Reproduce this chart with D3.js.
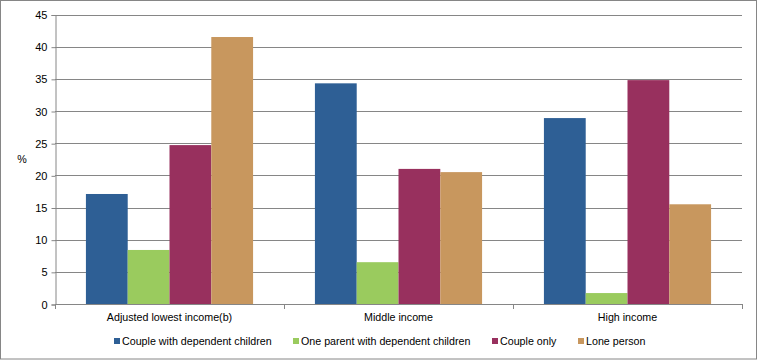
<!DOCTYPE html>
<html>
<head>
<meta charset="utf-8">
<script src="https://cdn.jsdelivr.net/npm/d3@7"></script>
<style>
  body { margin: 0; background: #fff; }
  text { font-family: "Liberation Sans", Arial, sans-serif; font-size: 10.7px; fill: #000; }
</style>
</head>
<body>
<script>
const w = 757;
const h = 360;

const categories = ["Adjusted lowest income(b)", "Middle income", "High income"];
const seriesNames = ["Couple with dependent children", "One parent with dependent children", "Couple only", "Lone person"];
const colors = ["#2E5F95", "#9ACB5E", "#98305E", "#C8975E"];
const coupleKids = [17.1, 34.3, 28.9];
const oneParent = [8.4, 6.5, 1.7];
const coupleOnly = [24.7, 21.0, 34.8];
const lonePerson = [41.5, 20.5, 15.5];
const yTicks = [0, 5, 10, 15, 20, 25, 30, 35, 40, 45];

const values = [coupleKids, oneParent, coupleOnly, lonePerson];

const pLeft = 55, pRight = 742, pTop = 14.5, pBottom = 304;

const svg = d3.select("body")
              .append("svg")
              .attr("width", w)
              .attr("height", h);

// outer border
svg.append("rect")
   .attr("x", 0.5).attr("y", 0.5)
   .attr("width", w - 1).attr("height", h - 1.5)
   .attr("fill", "none")
   .attr("stroke", "#868686");

const x0 = d3.scaleBand().domain(categories).range([pLeft, pRight]).padding(0);
const x1 = d3.scaleBand().domain(d3.range(4)).range([0, x0.bandwidth()]).paddingInner(0).paddingOuter(0.74);
const y = d3.scaleLinear().domain([0, 45]).range([pBottom, pTop]);

// grid lines
svg.selectAll("line.grid")
   .data(yTicks.slice(1))
   .enter()
   .append("line")
   .attr("x1", pLeft).attr("x2", pRight)
   .attr("y1", d => Math.round(y(d)) + 0.5)
   .attr("y2", d => Math.round(y(d)) + 0.5)
   .attr("stroke", "#868686");

// bars
categories.forEach((c, ci) => {
  svg.selectAll("rect.g" + ci)
     .data(values.map((v, si) => [si, v[ci]]))
     .enter()
     .append("rect")
     .attr("class", "g" + ci)
     .attr("x", d => x0(c) + x1(d[0]))
     .attr("y", d => y(d[1]))
     .attr("width", x1.bandwidth())
     .attr("height", d => pBottom - y(d[1]))
     .style("fill", d => colors[d[0]]);
});

// y axis
const yAxis = svg.append("g")
   .attr("transform", "translate(" + (pLeft + 0.5) + ",0.5)")
   .call(d3.axisLeft(y).tickValues(yTicks).tickSize(4).tickPadding(4));
yAxis.select(".domain").attr("stroke", "#868686");
yAxis.selectAll(".tick line").attr("stroke", "#868686");
yAxis.selectAll("text").style("font-family", "Liberation Sans, Arial, sans-serif").style("font-size", "11px").attr("fill", "#000");

// x axis
const xg = svg.append("g");
xg.append("line")
  .attr("x1", pLeft).attr("x2", pRight + 1)
  .attr("y1", pBottom + 0.5).attr("y2", pBottom + 0.5)
  .attr("stroke", "#868686");
xg.selectAll("line.tk")
  .data(categories.map(c => x0(c)).concat([pRight]))
  .enter()
  .append("line")
  .attr("x1", d => Math.round(d) + 0.5).attr("x2", d => Math.round(d) + 0.5)
  .attr("y1", pBottom).attr("y2", pBottom + 5)
  .attr("stroke", "#868686");
xg.selectAll("text")
  .data(categories)
  .enter()
  .append("text")
  .attr("x", d => x0(d) + x0.bandwidth() / 2)
  .attr("y", 321)
  .attr("text-anchor", "middle")
  .text(d => d);

// y label
svg.append("text")
   .attr("x", 22).attr("y", 163)
   .attr("text-anchor", "middle")
   .text("%");

// legend
const legendX = [114, 293, 492, 578];
const lg = svg.selectAll("g.legend")
   .data(seriesNames)
   .enter()
   .append("g")
   .attr("transform", (d, i) => "translate(" + legendX[i] + ",338)");
lg.append("rect")
  .attr("width", 6).attr("height", 6)
  .style("fill", (d, i) => colors[i]);
lg.append("text")
  .attr("x", 8).attr("y", 7)
  .text(d => d);
</script>
</body>
</html>
